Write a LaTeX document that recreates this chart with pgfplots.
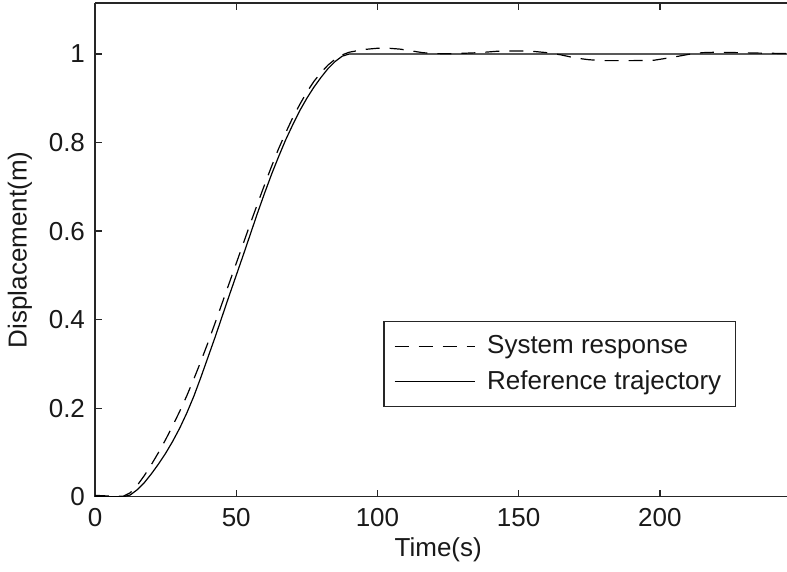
\documentclass[border=0pt]{standalone}
\usepackage{fontspec}
\setmainfont{Liberation Sans}
\usepackage{pgfplots}
\pgfplotsset{compat=1.18}
\newcommand{\chartfont}{\fontsize{13bp}{15.6bp}\selectfont}
\begin{document}
\begin{tikzpicture}
\begin{axis}[
  at={(0,0)}, anchor=south west,
  scale only axis,
  width=346bp, height=246.85bp,
  xmin=0, xmax=245, ymin=0, ymax=1.1152,
  axis x line*=box, axis y line*=left,
  axis line style={line width=0.75bp, black!85},
  tick style={line width=0.6bp, black!85},
  tick align=inside,
  major tick length=3.3bp,
  xtick={0,50,100,150,200},
  ytick={0,0.2,0.4,0.6,0.8,1},
  yticklabels={0,0.2,0.4,0.6,0.8,1},
  /pgf/number format/assume math mode=true,
  tick label style={font=\chartfont, text=black!90},
  xticklabel style={yshift=-2.5bp},
  yticklabel style={xshift=-1.5bp},
  xlabel={Time(s)},
  ylabel={Displacement(m)},
  label style={font=\chartfont, text=black!90},
  xlabel style={at={(axis description cs:0.496,-0.1074)}, anchor=center},
  ylabel style={at={(axis description cs:-0.1084,0.5)}, anchor=center},
  legend cell align=left,
  legend style={at={(0.9263,0.356)}, anchor=north east,
    draw=black!85, line width=0.75bp, fill=white,
    font=\chartfont, text=black!90,
    inner xsep=5bp, inner ysep=5bp, row sep=3bp,
    /tikz/every odd column/.append style={column sep=4bp}},
  legend image code/.code={\draw[#1, line width=0.6bp] (0bp,0bp) -- (40bp,0bp);},
]
\addplot[black, line width=0.6bp, dash pattern=on 7bp off 5bp] coordinates {
(0,0.003) (5,0.0015) (10,0.001) (12.5,0.009) (15,0.026) (17.5,0.048)
(20,0.073) (22.5,0.1) (25,0.129) (27.5,0.16) (30,0.193) (32.5,0.228)
(35,0.266) (37.5,0.306) (40,0.348) (42.5,0.392) (45,0.437) (47.5,0.482)
(50,0.527) (52.5,0.572) (55,0.617) (57.5,0.661) (60,0.704) (62.5,0.746)
(65,0.786) (67.5,0.822) (70,0.856) (72.5,0.886) (75,0.914) (77.5,0.938)
(80,0.958) (82.5,0.975) (85,0.988) (87.5,0.998) (90,1.004) (95,1.010)
(100,1.013) (103,1.0135) (108,1.011) (112,1.007) (116,1.003) (120,1.001)
(125,1.0005) (130,1.0015) (136,1.003) (142,1.006) (150,1.007) (155,1.006)
(160,1.003) (165,0.998) (170,0.991) (175,0.987) (180,0.985) (190,0.985)
(198,0.986) (204,0.992) (210,0.999) (215,1.003) (220,1.004) (228,1.003)
(235,1.002) (245,1.001)
};
\addlegendentry{System response}
\addplot[black, line width=0.6bp] coordinates {
(0,0) (10,0) (12.5,0.004) (15,0.016) (17.5,0.032) (20,0.052) (22.5,0.074)
(25,0.098) (27.5,0.125) (30,0.155) (32.5,0.189) (35,0.227) (37.5,0.27)
(40,0.315) (42.5,0.36) (45,0.407) (47.5,0.454) (50,0.5) (52.5,0.546)
(55,0.593) (57.5,0.64) (60,0.685) (62.5,0.728) (65,0.768) (67.5,0.806)
(70,0.84) (72.5,0.872) (75,0.9) (77.5,0.925) (80,0.947) (82.5,0.967)
(85,0.983) (87.5,0.995) (90,1) (245,1)
};
\addlegendentry{Reference trajectory}
\end{axis}
\pgfresetboundingbox
\useasboundingbox (-47.5bp,-37.65bp) rectangle (346bp,248.35bp);
\end{tikzpicture}
\end{document}
